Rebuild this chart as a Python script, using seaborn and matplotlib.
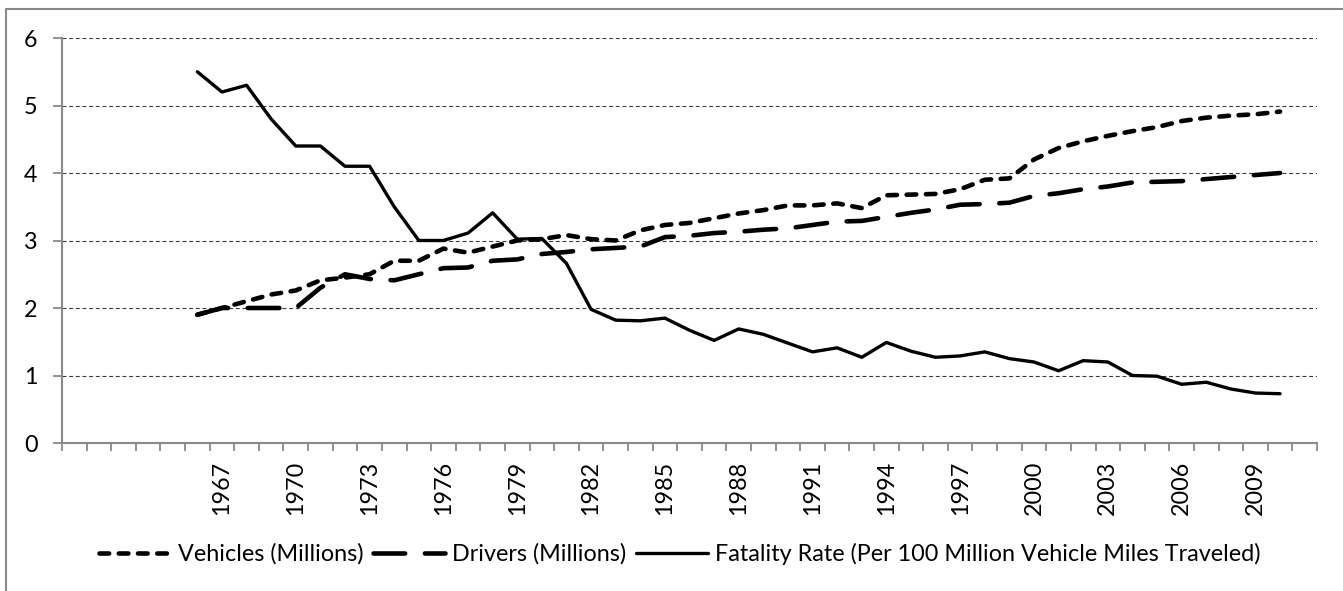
import matplotlib
matplotlib.use("Agg")
import matplotlib.pyplot as plt
import seaborn as sns
import pandas as pd
import numpy as np
from matplotlib.lines import Line2D

# ---- data ----
years = list(range(1966, 2011))
vehicles = [1.90, 2.00, 2.10, 2.20, 2.26, 2.41, 2.45, 2.50, 2.70, 2.70,
            2.88, 2.82, 2.91, 3.00, 3.02, 3.08, 3.02, 3.00, 3.15, 3.23,
            3.26, 3.33, 3.40, 3.45, 3.52, 3.52, 3.55, 3.48, 3.67, 3.68,
            3.69, 3.76, 3.90, 3.92, 4.20, 4.37, 4.47, 4.55, 4.62, 4.68,
            4.77, 4.82, 4.85, 4.87, 4.91]
drivers = [1.90, 2.00, 2.00, 2.00, 2.00, 2.30, 2.50, 2.43, 2.41, 2.50,
           2.59, 2.60, 2.70, 2.72, 2.80, 2.83, 2.87, 2.89, 2.91, 3.05,
           3.07, 3.11, 3.13, 3.16, 3.18, 3.23, 3.28, 3.29, 3.35, 3.41,
           3.46, 3.53, 3.54, 3.56, 3.66, 3.70, 3.76, 3.80, 3.86, 3.87,
           3.88, 3.91, 3.94, 3.97, 4.00]
fatality = [5.50, 5.20, 5.30, 4.80, 4.40, 4.40, 4.10, 4.10, 3.50, 3.00,
            3.00, 3.11, 3.41, 3.02, 3.03, 2.66, 1.98, 1.82, 1.81, 1.85,
            1.67, 1.52, 1.69, 1.61, 1.48, 1.35, 1.41, 1.27, 1.49, 1.36,
            1.27, 1.29, 1.35, 1.25, 1.20, 1.07, 1.22, 1.20, 1.00, 0.99,
            0.87, 0.90, 0.80, 0.74, 0.73]
series_names = ["Vehicles (Millions)", "Drivers (Millions)",
                "Fatality Rate (Per 100 Million Vehicle Miles Traveled)"]
first_cat, last_cat = 1961, 2011          # category axis range (some empty)
label_years = list(range(1967, 2010, 3))
y_ticks = [0, 1, 2, 3, 4, 5, 6]

# ---- style ----
sns.set_theme(style="white")
plt.rcParams["font.family"] = ["Lato", "DejaVu Sans"]
plt.rcParams["text.color"] = "black"
plt.rcParams["xtick.color"] = "black"
plt.rcParams["ytick.color"] = "black"
axis_gray = "#898989"
fs = 16.8

fig = plt.figure(figsize=(13.43, 5.91), dpi=100)
ax = fig.add_axes([62 / 1343, 148 / 591, (1317 - 62) / 1343, (443 - 38) / 591])

df = pd.DataFrame({"year": years, series_names[0]: vehicles,
                   series_names[1]: drivers, series_names[2]: fatality})

styles = [
    dict(lw=3.3, dashes=(2.1, 2.1)),
    dict(lw=3.3, dashes=(6.9, 4.3)),
    dict(lw=2.4, dashes=None),
]
handles = []
for name, st in zip(series_names, styles):
    sns.lineplot(data=df, x="year", y=name, ax=ax, color="black",
                 linewidth=st["lw"])
    ln = ax.lines[-1]
    h = Line2D([], [], color="black", linewidth=st["lw"])
    for obj in (ln, h):
        if st["dashes"] is not None:
            obj.set_dashes(st["dashes"])
            obj.set_dash_capstyle("round")
        else:
            obj.set_solid_capstyle("round")
        obj.set_solid_joinstyle("round")
        obj.set_dash_joinstyle("round")
    handles.append(h)

ax.set_xlim(first_cat - 0.5, last_cat + 0.5)
ax.set_ylim(0, 6)
ax.set_xlabel("")
ax.set_ylabel("")

# grid
ax.set_yticks(y_ticks)
ax.yaxis.grid(True, color="#3a3a3a", linestyle=(0, (3.5, 2.5)), linewidth=0.8)
ax.xaxis.grid(False)
ax.set_axisbelow(True)

# x ticks: marks at category boundaries, labels at centers
bounds = np.arange(first_cat - 0.5, last_cat + 0.51, 1.0)
ax.set_xticks(bounds)
ax.set_xticklabels([])
ax.set_xticks(label_years, minor=True)
ax.set_xticklabels([str(y) for y in label_years], minor=True, rotation=90,
                   fontsize=fs)
ax.tick_params(axis="x", which="major", direction="out", length=5.5, width=1.3,
               color=axis_gray, bottom=True)
ax.tick_params(axis="x", which="minor", length=0, pad=13, bottom=True)
ax.tick_params(axis="y", which="major", direction="out", length=6.5, width=1.3,
               color=axis_gray, left=True, labelsize=fs, pad=11)

for s in ["top", "right"]:
    ax.spines[s].set_visible(False)
for s in ["left", "bottom"]:
    ax.spines[s].set_color(axis_gray)
    ax.spines[s].set_linewidth(1.5)

# legend
fig.legend(handles, series_names, loc="center", bbox_to_anchor=(0.506, 37 / 591),
           ncol=3, frameon=False, fontsize=fs, handlelength=3.1,
           handletextpad=0.3, columnspacing=0.4)

# chart-area border (top and left visible)
fig.add_artist(Line2D([6 / 1343, 6 / 1343], [0, 1 - 9 / 591], color=axis_gray,
                      lw=1.5, transform=fig.transFigure))
fig.add_artist(Line2D([6 / 1343, 1], [1 - 9 / 591, 1 - 9 / 591], color=axis_gray,
                      lw=1.5, transform=fig.transFigure))

fig.savefig("out.png", dpi=100)
